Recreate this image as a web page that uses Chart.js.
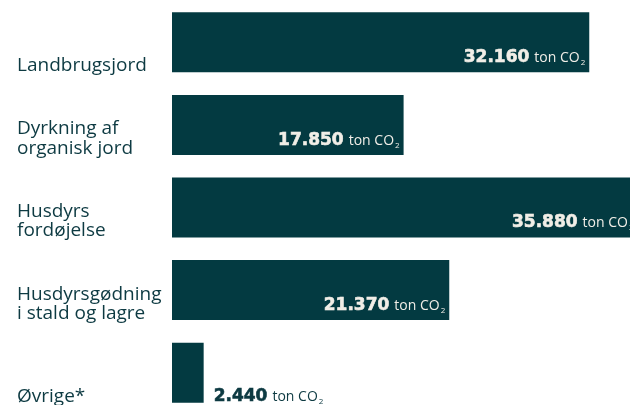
<!DOCTYPE html>
<html>
<head>
<meta charset="utf-8">
<script src="https://cdn.jsdelivr.net/npm/chart.js@4.4.1/dist/chart.umd.min.js"></script>
<style>
  html, body { margin: 0; padding: 0; background: #ffffff; overflow: hidden; }
  #wrap { width: 630px; height: 405px; overflow: hidden; position: relative; }
  canvas { display: block; }
</style>
</head>
<body>
<div id="wrap"><canvas id="c" width="630" height="414"></canvas></div>
<script>
// Data
const categories = [
  ["Landbrugsjord"],
  ["Dyrkning af", "organisk jord"],
  ["Husdyrs", "fordøjelse"],
  ["Husdyrsgødning", "i stald og lagre"],
  ["Øvrige*"]
];
const values = [32160, 17850, 35880, 21370, 2440];
const valueLabels = ["32.160", "17.850", "35.880", "21.370", "2.440"];
const unitLabel = "ton CO";
const unitSub = "2";

const BAR = '#033a41';
const TEXT = '#0d3a42';
const LIGHT = '#f1eee7';

const labelsPlugin = {
  id: 'customLabels',
  afterDatasetsDraw(chart) {
    const ctx = chart.ctx;
    const meta = chart.getDatasetMeta(0);
    ctx.save();
    meta.data.forEach((bar, i) => {
      const props = bar.getProps(['x', 'y', 'base', 'height'], true);
      const bottom = props.y + props.height / 2;
      // category label
      ctx.fillStyle = TEXT;
      ctx.font = '19px "Open Sans"';
      ctx.textAlign = 'left';
      ctx.textBaseline = 'alphabetic';
      const lines = categories[i];
      const lh = 19.5;
      lines.forEach((ln, k) => {
        const yy = bottom - 1 - (lines.length - 1 - k) * lh;
        ctx.fillText(ln, 17, yy);
      });
      // value label
      const numFont = 'bold 17px "DejaVu Sans"';
      const unitFont = '14px "Open Sans"';
      const subFont = '8px "Open Sans"';
      ctx.font = numFont; const wNum = ctx.measureText(valueLabels[i]).width;
      ctx.font = unitFont; const wUnit = ctx.measureText(unitLabel).width;
      ctx.font = subFont; const wSub = ctx.measureText(unitSub).width;
      const gap = 5;
      const total = wNum + gap + wUnit + 1 + wSub;
      const barW = props.x - props.base;
      let x0, base, color;
      if (barW > total + 12) {
        x0 = props.x - 4 - total;
        base = bottom - 10;
        color = LIGHT;
      } else {
        x0 = props.x + 10;
        base = bottom - 2;
        color = TEXT;
      }
      ctx.fillStyle = color;
      ctx.font = numFont;
      ctx.fillText(valueLabels[i], x0, base);
      ctx.lineWidth = 0.6; ctx.strokeStyle = color;
      ctx.strokeText(valueLabels[i], x0, base);
      ctx.font = unitFont; ctx.fillText(unitLabel, x0 + wNum + gap, base);
      ctx.font = subFont; ctx.fillText(unitSub, x0 + wNum + gap + wUnit + 1, base + 3);
    });
    ctx.restore();
  }
};

new Chart(document.getElementById('c'), {
  type: 'bar',
  data: {
    labels: categories.map(c => c.join(' ')),
    datasets: [{
      data: values,
      backgroundColor: BAR,
      borderWidth: 0,
      categoryPercentage: 1,
      barPercentage: 0.726
    }]
  },
  options: {
    indexAxis: 'y',
    responsive: false,
    animation: false,
    layout: { padding: { left: 172, top: 1, right: 0, bottom: 0 } },
    plugins: { legend: { display: false }, tooltip: { enabled: false } },
    scales: {
      x: { display: false, min: 0, max: 35300 },
      y: { display: false }
    }
  },
  plugins: [labelsPlugin]
});
</script>
</body>
</html>
